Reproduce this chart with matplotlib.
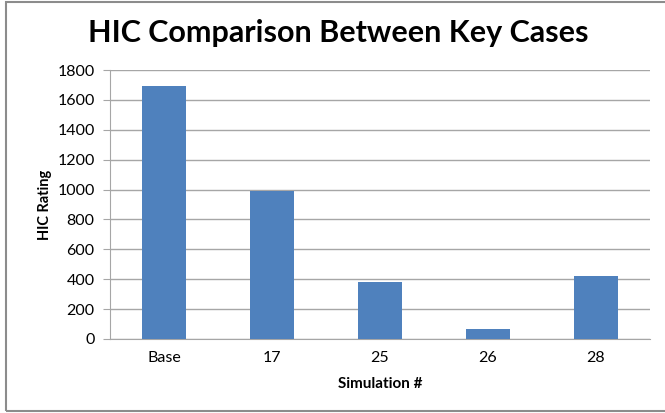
import matplotlib.pyplot as plt
from matplotlib.patches import Rectangle

# HIC values per simulation case
cases = ["Base", "17", "25", "26", "28"]
hic_rating = [1690, 992, 379, 69, 424]

BAR_COLOR = "#4F81BD"
GRID_COLOR = "#A6A6A6"

plt.rcParams["font.family"] = ["Lato", "DejaVu Sans"]

fig = plt.figure(figsize=(6.65, 4.13), dpi=100)
ax = fig.add_axes([0.1654, 0.1792, 0.8120, 0.6513])

x = range(len(cases))
ax.bar(x, hic_rating, width=0.4, color=BAR_COLOR, zorder=3)

ax.set_xlim(-0.5, len(cases) - 0.5)
ax.set_ylim(0, 1800)
ax.set_yticks(range(0, 1801, 200))
ax.set_xticks(list(x))
ax.set_xticklabels(cases)

ax.grid(axis="y", color=GRID_COLOR, linewidth=1, zorder=0)
for side in ["top", "right"]:
    ax.spines[side].set_visible(False)
ax.spines["left"].set_color(GRID_COLOR)
ax.spines["bottom"].set_color(GRID_COLOR)
ax.tick_params(axis="y", length=5, color=GRID_COLOR, labelsize=11.5, pad=6)
ax.tick_params(axis="x", length=0, labelsize=11.5, pad=9)

ax.set_xlabel("Simulation #", fontsize=11, fontweight="bold", labelpad=8)
ax.set_ylabel("HIC Rating", fontsize=10.5, fontweight="bold", labelpad=4)

fig.text(0.508, 0.92, "HIC Comparison Between Key Cases",
         ha="center", va="center", fontsize=22, fontweight="bold")

# chart border
fig.patches.append(Rectangle((6 / 665, 2 / 413), 1.0, 409 / 413,
                             transform=fig.transFigure, fill=False,
                             edgecolor="#8C8C8C", linewidth=1.5))

fig.savefig("out.png", dpi=100)
